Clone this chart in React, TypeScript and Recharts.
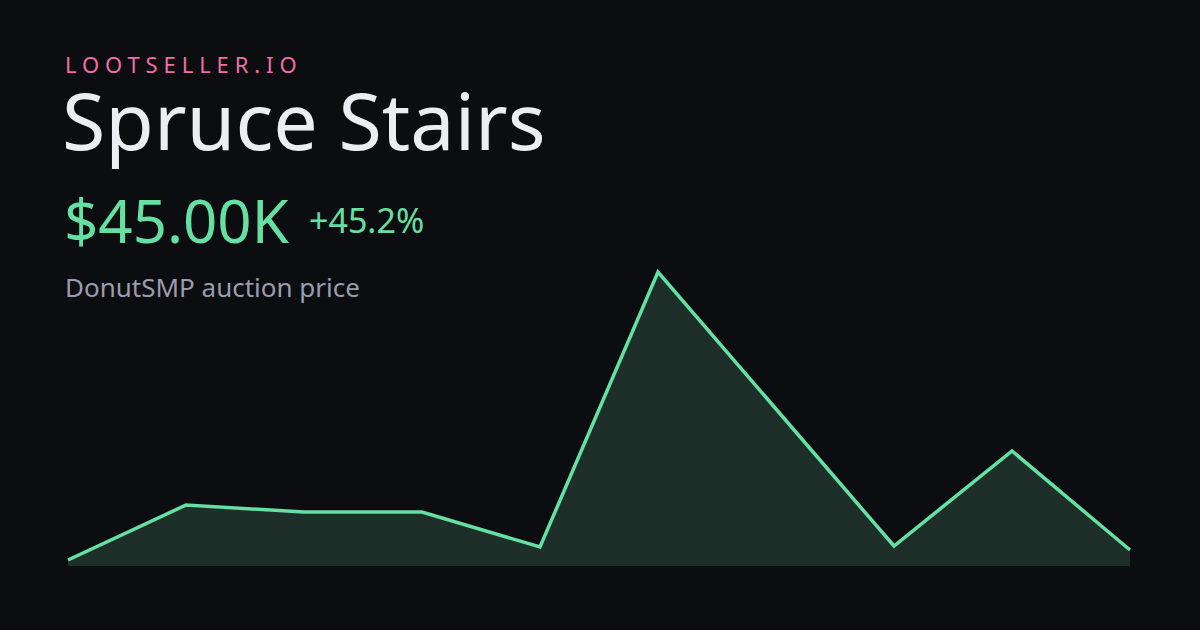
import { Area, AreaChart, XAxis, YAxis } from "recharts"

// price history, oldest first
const days = ["d1", "d2", "d3", "d4", "d5", "d6", "d7", "d8", "d9", "d10"]
const prices = [31000, 108000, 98200, 98200, 49200, 434200, 242400, 50600, 183600, 45000]
const priceDomain = [22600, 434200]

const data = days.map((day, i) => ({ day, price: prices[i] }))

const font = "'Noto Sans', 'Open Sans', sans-serif"
const green = "#63e0a2"

export default function App() {
  return (
    <div
      style={{
        position: "absolute",
        left: 0,
        top: 0,
        width: 1200,
        height: 630,
        background: "#0c0d10",
        overflow: "hidden",
        fontFamily: font,
      }}
    >
      <style>{"body{margin:0;background:#0c0d10}"}</style>

      {/* Chart */}
      <div style={{ position: "absolute", left: 0, top: 0 }}>
        <AreaChart
          width={1200}
          height={630}
          data={data}
          margin={{ top: 272, right: 70, left: 68, bottom: 64 }}
        >
          <XAxis dataKey="day" hide />
          <YAxis hide domain={priceDomain} />
          <Area
            type="linear"
            dataKey="price"
            stroke={green}
            strokeWidth={3.5}
            fill="#1e2f2a"
            fillOpacity={1}
            dot={false}
            isAnimationActive={false}
          />
        </AreaChart>
      </div>

      {/* Header */}
      <div
        style={{
          position: "absolute",
          left: 65,
          top: 53,
          fontSize: 22,
          lineHeight: 1,
          letterSpacing: 5.9,
          color: "#f06ea3",
        }}
      >
        LOOTSELLER.IO
      </div>
      <div
        style={{
          position: "absolute",
          left: 62,
          top: 80,
          fontSize: 79,
          lineHeight: 1,
          color: "#ecedf2",
        }}
      >
        Spruce Stairs
      </div>
      <div
        style={{
          position: "absolute",
          left: 64,
          top: 190,
          fontSize: 60,
          lineHeight: 1,
          color: green,
        }}
      >
        $45.00K
      </div>
      <div
        style={{
          position: "absolute",
          left: 309,
          top: 203,
          fontSize: 34,
          lineHeight: 1,
          color: green,
        }}
      >
        +45.2%
      </div>
      <div
        style={{
          position: "absolute",
          left: 65,
          top: 274,
          fontSize: 26,
          lineHeight: 1,
          color: "#9a9cad",
        }}
      >
        DonutSMP auction price
      </div>
    </div>
  )
}
